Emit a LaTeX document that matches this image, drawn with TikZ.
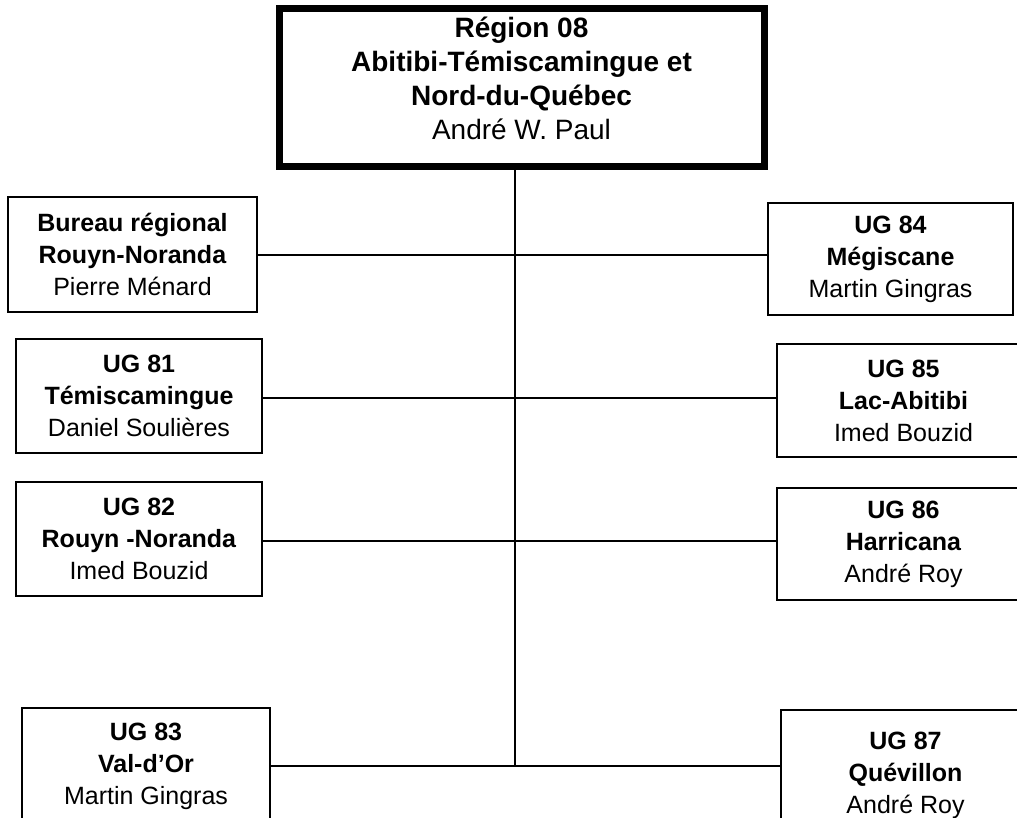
\documentclass[tikz,border=0pt]{standalone}
\usepackage{fontspec}
\setmainfont{Liberation Sans}
\begin{document}
\begin{tikzpicture}[x=1pt,y=-1pt,
  box/.style={draw=black, line width=1.6pt, inner sep=0pt, align=center, fill=white,
    font=\fontsize{25}{32}\selectfont},
  topbox/.style={draw=black, line width=7pt, inner sep=0pt, fill=white},
  toptext/.style={align=center, inner sep=0pt, font=\fontsize{28}{34}\selectfont},
  link/.style={line width=1.6pt}]
\useasboundingbox (0,0) rectangle (1017,818);
\clip (0,0) rectangle (1017,818);
\fill[white] (0,0) rectangle (1017,818);
\coordinate (spine) at (515,766);
% top
\node[topbox, minimum width=485pt, minimum height=158pt] (top) at (521.5,88) {};
\node[toptext] (toptext) at (521.5,78) {\textbf{Région 08}\\\textbf{Abitibi-Témiscamingue et}\\\textbf{Nord-du-Québec}\\André W. Paul};
\draw[link] (top.south -| spine) -- (spine);
% left column
\node[box, minimum width=249pt, minimum height=115pt] (bureau) at (132.5,254.5) {\textbf{Bureau régional}\\\textbf{Rouyn-Noranda}\\Pierre Ménard};
\node[box, minimum width=246pt, minimum height=114pt] (ug81) at (139,396) {\textbf{UG 81}\\\textbf{Témiscamingue}\\Daniel Soulières};
\node[box, minimum width=246pt, minimum height=114pt] (ug82) at (139,539) {\textbf{UG 82}\\\textbf{Rouyn -Noranda}\\Imed Bouzid};
\node[box, minimum width=248pt, minimum height=116pt] (ug83) at (146,766) {\textbf{UG 83}\\\textbf{Val-d’Or}\\Martin Gingras};
% right column
\node[box, minimum width=245pt, minimum height=112pt] (ug84) at (890.5,259) {\textbf{UG 84}\\\textbf{Mégiscane}\\Martin Gingras};
\node[box, minimum width=253pt, minimum height=113pt] (ug85) at (903.5,400.5) {\textbf{UG 85}\\\textbf{Lac-Abitibi}\\Imed Bouzid};
\node[box, minimum width=253pt, minimum height=112pt] (ug86) at (903.5,544) {\textbf{UG 86}\\\textbf{Harricana}\\André Roy};
\node[box, minimum width=249pt, minimum height=130pt] (ug87) at (905.5,775) {\textbf{UG 87}\\\textbf{Quévillon}\\André Roy};
% connectors
\draw[link] (bureau.east |- 0,255) -- (ug84.west |- 0,255);
\draw[link] (ug81.east |- 0,398) -- (ug85.west |- 0,398);
\draw[link] (ug82.east |- 0,541) -- (ug86.west |- 0,541);
\draw[link] (ug83.east |- spine) -- (ug87.west |- spine);
\end{tikzpicture}
\end{document}
